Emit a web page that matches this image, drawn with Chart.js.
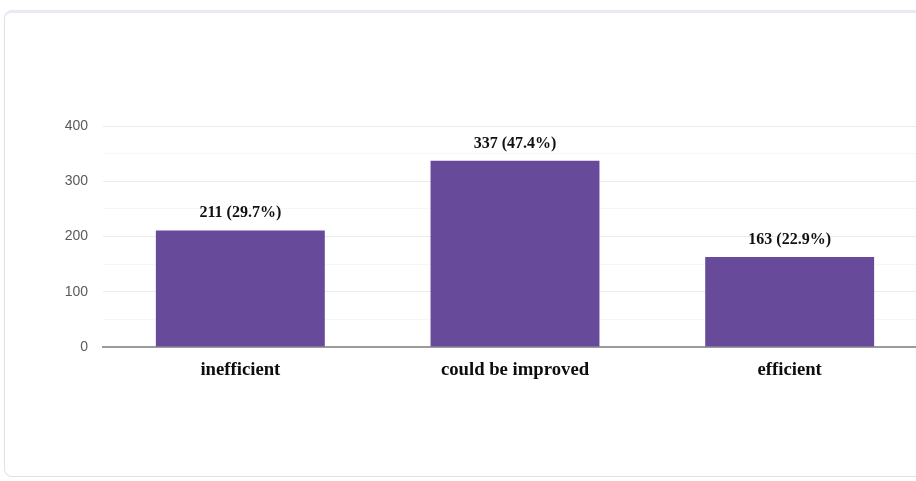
<!DOCTYPE html>
<html>
<head>
<meta charset="utf-8">
<script src="https://cdn.jsdelivr.net/npm/chart.js@4/dist/chart.umd.min.js"></script>
<style>
  html, body { margin: 0; padding: 0; background: #fff; overflow: hidden; width: 916px; height: 481px; }
  .card {
    position: absolute; left: 4px; top: 10px; width: 940px; height: 467px;
    border: 1px solid #e3dfe9; border-top: 3px solid #ece7f3;
    border-radius: 8px; background: #fff; box-sizing: border-box;
  }
  .wrap { position: absolute; left: 0; top: 0; width: 927px; height: 481px; }
</style>
</head>
<body>
<div class="card"></div>
<div class="wrap"><canvas id="c" width="927" height="481"></canvas></div>
<script>
// Survey answers and response counts
const categories = ['inefficient', 'could be improved', 'efficient'];
const counts = [211, 337, 163];
const yTicks = [0, 100, 200, 300, 400];

const total = counts.reduce((a, b) => a + b, 0);

// Prints "count (share%)" above each bar
const valueLabels = {
  id: 'valueLabels',
  afterDatasetsDraw(chart) {
    const ctx = chart.ctx;
    const meta = chart.getDatasetMeta(0);
    ctx.save();
    ctx.font = 'bold 16px "Liberation Serif", "Times New Roman", serif';
    ctx.fillStyle = '#111';
    ctx.textAlign = 'center';
    ctx.textBaseline = 'alphabetic';
    meta.data.forEach((bar, i) => {
      const v = counts[i];
      const pct = (v / total * 100).toFixed(1);
      ctx.fillText(v + ' (' + pct + '%)', bar.x, bar.y - 13);
    });
    ctx.restore();
  }
};

new Chart(document.getElementById('c'), {
  type: 'bar',
  data: {
    labels: categories,
    datasets: [{
      data: counts,
      backgroundColor: '#684a9b',
      borderWidth: 0,
      categoryPercentage: 1,
      barPercentage: 0.615
    }]
  },
  options: {
    responsive: false,
    animation: false,
    layout: { padding: { top: 126, right: 0, left: 0, bottom: 0 } },
    plugins: { legend: { display: false }, tooltip: { enabled: false } },
    scales: {
      x: {
        grid: { display: false, drawTicks: false },
        border: { display: true, color: '#9b9b9b', width: 2 },
        ticks: {
          padding: 12,
          color: '#0d0d0d',
          font: { family: '"Liberation Serif", "Times New Roman", serif', size: 18.7, weight: 'bold' }
        },
        afterFit(scale) { scale.height = 134; }
      },
      y: {
        min: 0,
        max: 400,
        ticks: {
          stepSize: 50,
          padding: 15,
          color: '#5a5a5a',
          font: { family: '"Liberation Sans", Arial, sans-serif', size: 14 },
          callback: (v) => yTicks.includes(v) ? String(v) : ''
        },
        grid: {
          drawTicks: false,
          lineWidth: 1,
          color: (c) => (c.tick && yTicks.includes(c.tick.value)) ? '#ebebeb' : '#f6f6f6'
        },
        border: { display: false },
        afterFit(scale) { scale.width = 103; }
      }
    }
  },
  plugins: [valueLabels]
});
</script>
</body>
</html>
